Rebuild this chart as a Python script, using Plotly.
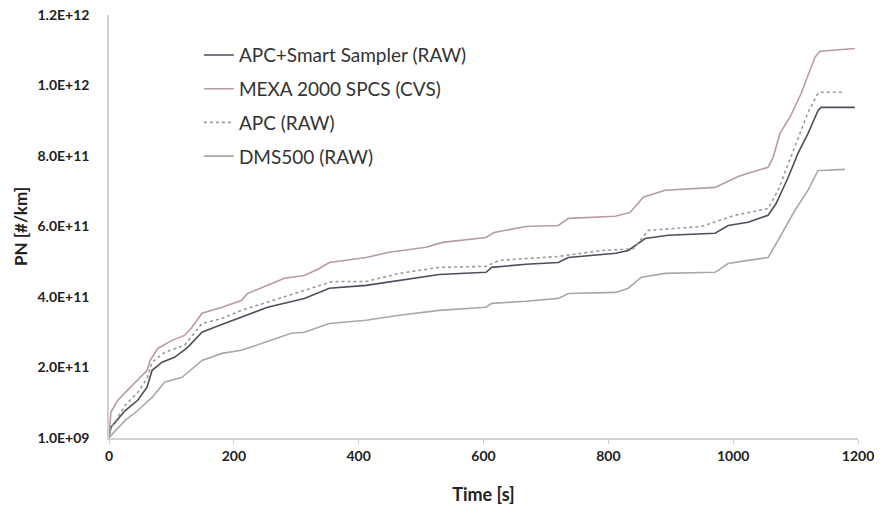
import plotly.graph_objects as go

# Time [s] and PN [1e11 #/km]
mexa_t = [0, 3, 14, 26, 46, 61, 66, 78, 101, 121, 133, 149, 181, 212, 222, 254, 281, 313, 337, 353,
          412, 449, 508, 534, 604, 617, 668, 720, 736, 811, 835, 856, 891, 971, 997, 1008, 1024, 1056,
          1064, 1075, 1091, 1109, 1131, 1139, 1195]
mexa_v = [0.01, 0.74, 1.08, 1.30, 1.65, 1.93, 2.21, 2.55, 2.78, 2.92, 3.15, 3.55, 3.72, 3.91, 4.11, 4.34,
          4.54, 4.62, 4.82, 4.99, 5.13, 5.28, 5.42, 5.56, 5.70, 5.84, 6.01, 6.04, 6.24, 6.30, 6.41, 6.84,
          7.04, 7.12, 7.35, 7.43, 7.52, 7.69, 7.97, 8.65, 9.11, 9.79, 10.81, 10.98, 11.06]

apcss_t = [0, 3, 26, 46, 61, 69, 85, 105, 126, 149, 169, 206, 222, 254, 313, 353, 412, 465, 529, 604,
           613, 668, 720, 736, 812, 832, 859, 896, 971, 992, 1024, 1056, 1069, 1088, 1104, 1120, 1136,
           1141, 1195]
apcss_v = [0.01, 0.31, 0.79, 1.08, 1.45, 1.93, 2.16, 2.30, 2.58, 3.01, 3.15, 3.40, 3.49, 3.72, 3.97,
           4.26, 4.34, 4.48, 4.65, 4.71, 4.85, 4.94, 4.99, 5.13, 5.25, 5.33, 5.67, 5.76, 5.82, 6.04, 6.13,
           6.33, 6.67, 7.40, 8.09, 8.65, 9.30, 9.39, 9.39]

apc_t = [0, 3, 26, 46, 61, 69, 89, 121, 149, 181, 212, 254, 294, 358, 412, 465, 529, 604, 625, 720,
         789, 840, 864, 949, 1003, 1045, 1056, 1072, 1088, 1104, 1120, 1136, 1141, 1179]
apc_v = [0.01, 0.28, 0.94, 1.30, 1.70, 2.16, 2.44, 2.64, 3.26, 3.40, 3.63, 3.86, 4.09, 4.45, 4.45, 4.68,
         4.85, 4.88, 5.05, 5.16, 5.33, 5.38, 5.90, 6.01, 6.33, 6.47, 6.52, 7.04, 7.80, 8.51, 9.25, 9.79,
         9.82, 9.82]

dms_t = [0, 6, 26, 46, 69, 89, 117, 149, 181, 212, 249, 292, 313, 353, 412, 465, 529, 604, 613, 668,
         720, 736, 812, 832, 853, 891, 971, 992, 1024, 1056, 1072, 1099, 1120, 1136, 1141, 1179]
dms_v = [0.01, 0.14, 0.51, 0.79, 1.16, 1.59, 1.73, 2.21, 2.41, 2.50, 2.72, 2.98, 3.01, 3.26, 3.35, 3.49,
         3.63, 3.72, 3.83, 3.89, 3.97, 4.11, 4.14, 4.26, 4.57, 4.68, 4.71, 4.96, 5.05, 5.13, 5.62, 6.47,
         7.04, 7.60, 7.60, 7.63]

y_tick_vals = [1e9, 2.01e11, 4.01e11, 6.01e11, 8.01e11, 1.001e12, 1.201e12]
y_tick_text = ["1.0E+09", "2.0E+11", "4.0E+11", "6.0E+11", "8.0E+11", "1.0E+12", "1.2E+12"]
x_tick_vals = [0, 200, 400, 600, 800, 1000, 1200]

UNIT = 1e11

series = [
    ("APC+Smart Sampler (RAW)", apcss_t, apcss_v, "#4d4d5c", "solid"),
    ("MEXA 2000 SPCS (CVS)", mexa_t, mexa_v, "#b89aa2", "solid"),
    ("APC (RAW)", apc_t, apc_v, "#9a9a9a", "3px,3px"),
    ("DMS500 (RAW)", dms_t, dms_v, "#a8a8a8", "solid"),
]

fig = go.Figure()
for i, (name, t, v, col, dash) in enumerate(series):
    fig.add_trace(go.Scatter(
        x=t, y=[val * UNIT for val in v], mode="lines", name=name,
        legendgroup=f"g{i}",
        line=dict(color=col, width=1.6, dash=dash),
    ))

fig.update_layout(
    width=888, height=505,
    margin=dict(l=109, r=30, t=15, b=67),
    paper_bgcolor="white", plot_bgcolor="white",
    font=dict(family="Lato, Open Sans, sans-serif", color="#222"),
    showlegend=True,
    legend=dict(
        x=0.12, y=0.95, xanchor="left", yanchor="top",
        font=dict(size=19, color="#333"),
        bgcolor="rgba(255,255,255,0)",
        tracegroupgap=6,
        traceorder="grouped",
    ),
    xaxis=dict(
        range=[0, 1200], tickvals=x_tick_vals, automargin=False,
        showline=True, linecolor="#d0d0d0", linewidth=1.5,
        ticks="outside", ticklen=4, tickcolor="#d0d0d0",
        showgrid=False, zeroline=False,
        tickfont=dict(size=14, family="Lato", color="#222", weight="bold"),
        title=dict(text="<b>Time [s]</b>", font=dict(size=18, color="#222"), standoff=26),
    ),
    yaxis=dict(
        range=[1e9, 1.201e12], tickvals=y_tick_vals, ticktext=y_tick_text, automargin=False,
        showline=True, linecolor="#d0d0d0", linewidth=1.5,
        ticks="", showgrid=False, zeroline=False,
        ticklabelstandoff=15,
        tickfont=dict(size=14, family="Lato", color="#222", weight="bold"),
        title=dict(text="<b>PN [#/km]</b>", font=dict(size=17, color="#222"), standoff=6),
    ),
)

fig.write_html("out.html")
